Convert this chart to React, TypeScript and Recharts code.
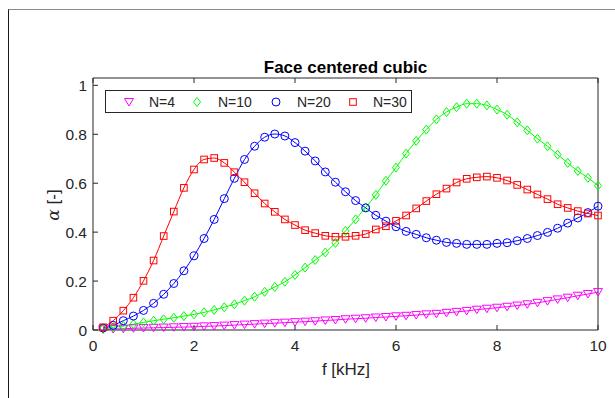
import { ComposedChart, Line, XAxis, YAxis, Legend } from 'recharts';

// 频率点 (kHz)
const FREQ = [
  0.2, 0.4, 0.6, 0.8, 1.0, 1.2, 1.4, 1.6, 1.8, 2.0,
  2.2, 2.4, 2.6, 2.8, 3.0, 3.2, 3.4, 3.6, 3.8, 4.0,
  4.2, 4.4, 4.6, 4.8, 5.0, 5.2, 5.4, 5.6, 5.8, 6.0,
  6.2, 6.4, 6.6, 6.8, 7.0, 7.2, 7.4, 7.6, 7.8, 8.0,
  8.2, 8.4, 8.6, 8.8, 9.0, 9.2, 9.4, 9.6, 9.8, 10.0,
];

const ALPHA_N4 = [
  0.003, 0.004, 0.005, 0.007, 0.008, 0.009, 0.010, 0.011, 0.012, 0.013,
  0.015, 0.016, 0.018, 0.020, 0.022, 0.024, 0.026, 0.028, 0.030, 0.032,
  0.034, 0.036, 0.039, 0.041, 0.044, 0.046, 0.048, 0.051, 0.053, 0.056,
  0.058, 0.061, 0.064, 0.066, 0.070, 0.074, 0.078, 0.083, 0.087, 0.091,
  0.095, 0.100, 0.105, 0.111, 0.118, 0.125, 0.132, 0.140, 0.147, 0.155,
];

const ALPHA_N10 = [
  0.005, 0.011, 0.016, 0.024, 0.031, 0.038, 0.044, 0.050, 0.057, 0.064,
  0.072, 0.082, 0.093, 0.105, 0.120, 0.136, 0.156, 0.176, 0.197, 0.225,
  0.255, 0.286, 0.317, 0.356, 0.405, 0.452, 0.501, 0.552, 0.610, 0.664,
  0.721, 0.773, 0.819, 0.861, 0.891, 0.911, 0.925, 0.925, 0.918, 0.901,
  0.880, 0.849, 0.816, 0.782, 0.751, 0.717, 0.683, 0.650, 0.622, 0.590,
];

const ALPHA_N20 = [
  0.008, 0.019, 0.038, 0.057, 0.080, 0.109, 0.146, 0.190, 0.242, 0.303,
  0.374, 0.452, 0.537, 0.620, 0.697, 0.751, 0.788, 0.801, 0.793, 0.766,
  0.731, 0.691, 0.646, 0.604, 0.565, 0.529, 0.499, 0.469, 0.445, 0.422,
  0.403, 0.391, 0.377, 0.367, 0.358, 0.354, 0.350, 0.350, 0.350, 0.354,
  0.357, 0.365, 0.374, 0.386, 0.399, 0.416, 0.437, 0.458, 0.480, 0.506,
];

const ALPHA_N30 = [
  0.011, 0.038, 0.079, 0.132, 0.201, 0.284, 0.384, 0.484, 0.581, 0.656,
  0.697, 0.703, 0.683, 0.645, 0.604, 0.559, 0.517, 0.483, 0.452, 0.429,
  0.408, 0.396, 0.385, 0.381, 0.381, 0.385, 0.392, 0.411, 0.424, 0.446,
  0.468, 0.497, 0.527, 0.555, 0.578, 0.603, 0.618, 0.624, 0.627, 0.622,
  0.611, 0.593, 0.574, 0.554, 0.535, 0.514, 0.499, 0.486, 0.476, 0.468,
];

const X_TICKS = [0, 2, 4, 6, 8, 10];
const Y_TICKS = [0, 0.2, 0.4, 0.6, 0.8, 1];

type Shape = 'tri' | 'diamond' | 'circle' | 'square';

const SERIES: { key: string; name: string; color: string; shape: Shape }[] = [
  { key: 'n4', name: 'N=4', color: '#ff00ff', shape: 'tri' },
  { key: 'n10', name: 'N=10', color: '#00ff00', shape: 'diamond' },
  { key: 'n20', name: 'N=20', color: '#0000ff', shape: 'circle' },
  { key: 'n30', name: 'N=30', color: '#ff0000', shape: 'square' },
];

const data = FREQ.map((f, i) => ({
  f,
  n4: ALPHA_N4[i],
  n10: ALPHA_N10[i],
  n20: ALPHA_N20[i],
  n30: ALPHA_N30[i],
}));

const AXIS_COLOR = '#262626';
const FONT = '"Liberation Sans", Arial, sans-serif';

function Marker({ shape, cx, cy, color }: { shape: Shape; cx: number; cy: number; color: string }) {
  const common = { fill: 'none', stroke: color, strokeWidth: 1 };
  if (shape === 'tri') {
    return <polygon points={`${cx - 4.5},${cy - 3.5} ${cx + 4.5},${cy - 3.5} ${cx},${cy + 4}`} {...common} />;
  }
  if (shape === 'diamond') {
    return <polygon points={`${cx},${cy - 4.5} ${cx + 3.5},${cy} ${cx},${cy + 4.5} ${cx - 3.5},${cy}`} {...common} />;
  }
  if (shape === 'circle') {
    return <circle cx={cx} cy={cy} r={4} {...common} />;
  }
  return <rect x={cx - 3.3} y={cy - 3.3} width={6.6} height={6.6} {...common} />;
}

const dotFor = (shape: Shape, color: string) => (props: any) => {
  const { cx, cy, index } = props;
  if (cx == null || cy == null) return <g key={`${shape}-${index}`} />;
  return (
    <g key={`${shape}-${index}`}>
      <Marker shape={shape} cx={cx} cy={cy} color={color} />
    </g>
  );
};

// 图例位置 (相对图例框)
const LEG_MARK_X = [24, 92, 171, 248];
const LEG_TEXT_X = [44, 113, 192, 268];

function FigLegend() {
  return (
    <svg width={307} height={23} style={{ display: 'block' }}>
      <rect x={0.5} y={0.5} width={306} height={22} fill="#fff" stroke={AXIS_COLOR} />
      {SERIES.map((s, i) => (
        <g key={s.key}>
          <Marker shape={s.shape} cx={LEG_MARK_X[i]} cy={12} color={s.color} />
          <text x={LEG_TEXT_X[i]} y={17} fontSize={14} fontFamily={FONT} fill={AXIS_COLOR}>
            {s.name}
          </text>
        </g>
      ))}
    </svg>
  );
}

const hidden = () => <g />;

export default function App() {
  return (
    <div
      style={{
        position: 'fixed',
        left: 0,
        top: 0,
        width: 615,
        height: 398,
        background: '#fff',
        overflow: 'hidden',
        fontFamily: FONT,
      }}
    >
      <div
        style={{
          position: 'absolute',
          left: 8,
          top: 9,
          right: 0,
          bottom: 0,
          borderTop: '1px solid #8c8c8c',
          borderLeft: '1px solid #1a1a1a',
        }}
      />
      <div style={{ position: 'absolute', left: 0, top: 0 }}>
        <ComposedChart
          width={615}
          height={398}
          data={data}
          margin={{ top: 77, right: 16, bottom: 0, left: 0 }}
        >
          <XAxis
            xAxisId="b"
            dataKey="f"
            type="number"
            domain={[0, 10]}
            ticks={X_TICKS}
            height={68}
            tickSize={-5}
            tickMargin={15}
            stroke={AXIS_COLOR}
            tick={{ fill: AXIS_COLOR, fontSize: 15.5, fontFamily: FONT }}
          />
          <XAxis
            xAxisId="t"
            orientation="top"
            dataKey="f"
            type="number"
            domain={[0, 10]}
            ticks={X_TICKS}
            height={1}
            tickSize={-5}
            tick={hidden}
            stroke={AXIS_COLOR}
          />
          <YAxis
            yAxisId="l"
            type="number"
            domain={[0, 1.03]}
            ticks={Y_TICKS}
            width={93}
            tickSize={-5}
            tickMargin={11}
            stroke={AXIS_COLOR}
            tick={{ fill: AXIS_COLOR, fontSize: 15.5, fontFamily: FONT }}
          />
          <YAxis
            yAxisId="r"
            orientation="right"
            type="number"
            domain={[0, 1.03]}
            ticks={Y_TICKS}
            width={1}
            tickSize={-5}
            tick={hidden}
            stroke={AXIS_COLOR}
          />
          <Legend
            layout="vertical"
            align="center"
            verticalAlign="middle"
            content={() => <FigLegend />}
            wrapperStyle={{ left: 105, top: 90, width: 307, height: 23 }}
          />
          {SERIES.map((s) => (
            <Line
              key={s.key}
              xAxisId="b"
              yAxisId="l"
              type="monotone"
              dataKey={s.key}
              name={s.name}
              stroke={s.color}
              strokeWidth={1}
              dot={dotFor(s.shape, s.color)}
              activeDot={false}
              isAnimationActive={false}
            />
          ))}
        </ComposedChart>
      </div>
      <svg
        width={615}
        height={398}
        style={{ position: 'absolute', left: 0, top: 0, pointerEvents: 'none' }}
      >
        <text
          x={345.5}
          y={73}
          textAnchor="middle"
          fontSize={17}
          fontWeight="bold"
          fontFamily={FONT}
          fill="#000"
        >
          Face centered cubic
        </text>
        <text
          x={346}
          y={375}
          textAnchor="middle"
          fontSize={17}
          fontFamily={FONT}
          fill={AXIS_COLOR}
        >
          f [kHz]
        </text>
        <text
          x={59}
          y={205}
          textAnchor="middle"
          transform="rotate(-90 59 205)"
          fontSize={17}
          fontFamily={FONT}
          fill={AXIS_COLOR}
        >
          <tspan fontFamily='"DejaVu Serif", serif' fontStyle="italic">α</tspan>
          <tspan> [-]</tspan>
        </text>
      </svg>
    </div>
  );
}
